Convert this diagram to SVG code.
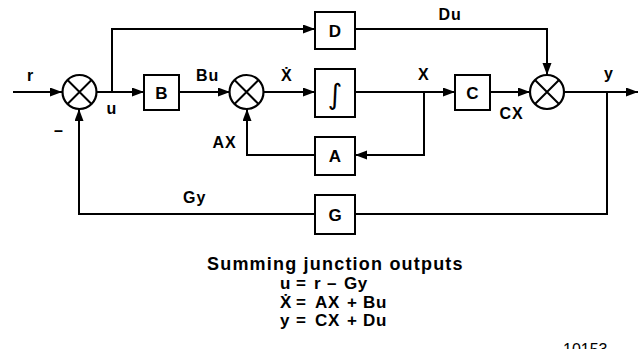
<svg xmlns="http://www.w3.org/2000/svg" width="638" height="349" viewBox="0 0 638 349">
<style>
.ln{fill:none;stroke:#000;stroke-width:2}
.box{fill:#fff;stroke:#000;stroke-width:2}
.sj{fill:#fff;stroke:#000;stroke-width:2.2}
.lab{font-family:"Liberation Sans",Arial,sans-serif;font-weight:bold;font-size:16px;letter-spacing:1px;fill:#000}
.bl{font-family:"Liberation Sans",Arial,sans-serif;font-weight:bold;font-size:17px;fill:#000;text-anchor:middle}
.eq{font-family:"Liberation Sans",Arial,sans-serif;font-weight:bold;font-size:17px;letter-spacing:0.6px;fill:#000}
</style>
<defs>
<marker id="ah" markerUnits="userSpaceOnUse" markerWidth="13" markerHeight="10" refX="12" refY="4.5" orient="auto">
<path d="M0,0 L12,4.5 L0,9 z" fill="#000"/>
</marker>
<g id="sjsym">
<circle r="17" class="sj"/>
<path d="M-12,-12 L12,12 M12,-12 L-12,12" class="ln"/>
</g>
</defs>

<g id="connectors">
<path d="M13,92 L62,92" class="ln" marker-end="url(#ah)"/>
<path d="M97,92 L144,92" class="ln" marker-end="url(#ah)"/>
<path d="M112,92 L112,29 L315,29" class="ln" marker-end="url(#ah)"/>
<path d="M179,92 L230,92" class="ln" marker-end="url(#ah)"/>
<path d="M264,92 L315,92" class="ln" marker-end="url(#ah)"/>
<path d="M355,92 L455,92" class="ln" marker-end="url(#ah)"/>
<path d="M424,92 L424,155 L355,155" class="ln" marker-end="url(#ah)"/>
<path d="M315,155 L247,155 L247,109" class="ln" marker-end="url(#ah)"/>
<path d="M490,92 L530,92" class="ln" marker-end="url(#ah)"/>
<path d="M355,29 L547,29 L547,75" class="ln" marker-end="url(#ah)"/>
<path d="M564,92 L638,92" class="ln" marker-end="url(#ah)"/>
<path d="M607,92 L607,214 L355,214" class="ln"/>
<path d="M315,214 L79,214 L79,109" class="ln" marker-end="url(#ah)"/>
</g>

<g id="sum1"><use href="#sjsym" x="79.5" y="92"/></g>
<g id="sum2"><use href="#sjsym" x="246.5" y="92"/></g>
<g id="sum3"><use href="#sjsym" x="547" y="92"/></g>

<g id="B"><rect x="144" y="75" width="35" height="35" class="box"/><text x="161.5" y="98.5" class="bl">B</text></g>
<g id="D"><rect x="315" y="12" width="40" height="37" class="box"/><text x="335" y="36.5" class="bl">D</text></g>
<g id="integrator"><rect x="315" y="69" width="40" height="48" class="box"/><text x="335" y="104" style="font-family:'DejaVu Sans',sans-serif;font-size:28px;text-anchor:middle">∫</text></g>
<g id="A"><rect x="315" y="137" width="40" height="38" class="box"/><text x="335" y="162" class="bl">A</text></g>
<g id="C"><rect x="455" y="75" width="35" height="35" class="box"/><text x="472.5" y="98.5" class="bl">C</text></g>
<g id="G"><rect x="315" y="195" width="40" height="39" class="box"/><text x="335" y="220.5" class="bl">G</text></g>

<g id="labels">
<text x="27" y="80.5" class="lab">r</text>
<text x="106.5" y="113.5" class="lab">u</text>
<text x="54" y="136" class="lab">–</text>
<text x="196" y="80.5" class="lab">Bu</text>
<text x="281" y="81" class="lab">Ẋ</text>
<text x="212.5" y="147.5" class="lab">AX</text>
<text x="418" y="80" class="lab">X</text>
<text x="438.5" y="20" class="lab">Du</text>
<text x="499.5" y="119" class="lab">CX</text>
<text x="604" y="79" class="lab">y</text>
<text x="183" y="203" class="lab">Gy</text>
</g>

<g id="equations">
<text x="207" y="270" style="font-family:'Liberation Sans',Arial,sans-serif;font-weight:bold;font-size:18px;letter-spacing:1.2px">Summing junction outputs</text>
<text y="289" class="eq"><tspan x="280">u</tspan><tspan x="296">=</tspan><tspan x="314">r</tspan><tspan x="327">–</tspan><tspan x="344">Gy</tspan></text>
<text y="307.5" class="eq"><tspan x="280">Ẋ</tspan><tspan x="296">=</tspan><tspan x="315">AX</tspan><tspan x="347">+</tspan><tspan x="363">Bu</tspan></text>
<text y="326" class="eq"><tspan x="280">y</tspan><tspan x="296">=</tspan><tspan x="315">CX</tspan><tspan x="347">+</tspan><tspan x="363">Du</tspan></text>
<text x="563" y="354.5" style="font-family:'Liberation Sans',Arial,sans-serif;font-size:16px">10153</text>
</g>
</svg>
